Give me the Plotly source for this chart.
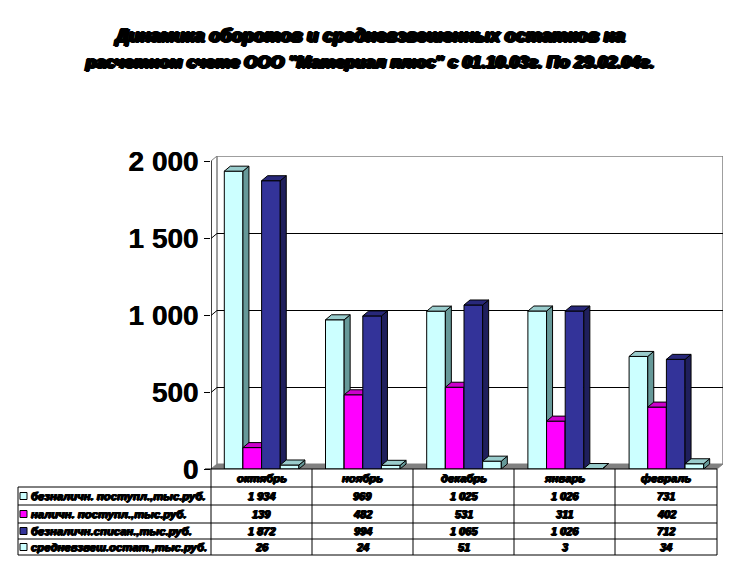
import plotly.graph_objects as go

months = ["октябрь", "ноябрь", "декабрь", "январь", "февраль"]
series_names = ["безналичн. поступл.,тыс.руб.", "наличн. поступл.,тыс.руб.",
                "безналичн.списан.,тыс.руб.", "средневзвеш.остат.,тыс.руб."]
beznal_post = [1934, 969, 1025, 1026, 731]
nal_post = [139, 482, 531, 311, 402]
beznal_spis = [1872, 994, 1065, 1026, 712]
sred_ost = [26, 24, 51, 3, 34]
series_values = [beznal_post, nal_post, beznal_spis, sred_ost]
table_text = [["1 934", "969", "1 025", "1 026", "731"],
              ["139", "482", "531", "311", "402"],
              ["1 872", "994", "1 065", "1 026", "712"],
              ["26", "24", "51", "3", "34"]]
y_ticks = [0, 500, 1000, 1500, 2000]
y_labels = ["0", "500", "1 000", "1 500", "2 000"]
title_lines = ["Динамика оборотов и средневзвешенных остатков на",
               "расчетном счете ООО \"Материал плюс\" с 01.10.03г. По 29.02.04г."]

front = ["#CCFFFF", "#FF00FF", "#333399", "#CCFFFF"]
top_c = ["#99CCCC", "#CC00CC", "#28287A", "#99CCCC"]
side_c = ["#669999", "#990099", "#1F1F5C", "#669999"]

W, H = 739, 576
L, R, T, B = 211, 723, 156, 469          # plot rectangle in page pixels
per_cat = 101.2
per_unit = 308 / 2000
dx = 6 / per_cat
dy = 5 / per_unit
bw = 18.65 / per_cat
idx = list(range(len(months)))
x_lo, x_hi = -0.5, -0.5 + (R - L) / per_cat
y_hi = (B - T) / per_unit
half_px = 0.5 / per_unit

fig = go.Figure()
def line_tr(xs, ys, color, width=1, yaxis="y", fill=None, fillcolor=None, clip=True):
    fig.add_trace(go.Scatter(x=xs, y=ys, mode="lines", yaxis=yaxis, hoverinfo="skip",
                             line=dict(color=color, width=width), fill=fill, fillcolor=fillcolor,
                             cliponaxis=clip, showlegend=False))

# walls and floor
xl, xr = x_lo, x_lo + 5
line_tr([xl, xl + dx, xr + dx, xr, xl], [0, dy, dy, 0, 0], "#808080", fill="toself", fillcolor="#808080")
line_tr([xl + dx, xl + dx, xr + dx, xr + dx], [dy, y_hi, y_hi, dy], "#808080", width=1.5, clip=False)
line_tr([xl, xl + dx], [2000, y_hi], "#808080", clip=False)
for t in y_ticks[1:-1]:
    line_tr([xl, xl + dx, xr + dx], [t - half_px, t + dy - half_px, t + dy - half_px], "#000000")
line_tr([xl, xl], [0, 2000], "#000000", width=1.5, clip=False)

# bars
for s, vals in enumerate(series_values):
    ya = "y%d" % (s + 2)
    off = -2 * bw + s * bw
    fig.add_trace(go.Bar(x=idx, y=vals, width=bw, offset=off, yaxis=ya, name=series_names[s],
                         marker=dict(color=front[s], line=dict(color="#000000", width=1)),
                         showlegend=False, hoverinfo="x+y"))
    sx, sy, tx, ty = [], [], [], []
    for i, v in zip(idx, vals):
        x0 = i + off
        x1 = x0 + bw
        sx += [x1, x1 + dx, x1 + dx, x1, x1, None]
        sy += [0, dy, v + dy, v, 0, None]
        tx += [x0, x0 + dx, x1 + dx, x1, x0, None]
        ty += [v, v + dy, v + dy, v, v, None]
    line_tr(sx, sy, "#000000", yaxis=ya, fill="toself", fillcolor=side_c[s], clip=False)
    line_tr(tx, ty, "#000000", yaxis=ya, fill="toself", fillcolor=top_c[s], clip=False)

# page-pixel helpers for the data table
pw, ph = R - L, B - T
def px(x): return (x - L) / pw
def py(y): return (B - y) / ph
shapes, notes = [], []
def seg(x0, y0, x1, y1):
    shapes.append(dict(type="line", xref="paper", yref="paper", x0=px(x0), y0=py(y0), x1=px(x1), y1=py(y1),
                       line=dict(color="#000000", width=1), layer="above"))
shadow = "0.8px 0 0 #000,-0.8px 0 0 #000,0 0.5px 0 #000,0 -0.5px 0 #000"
def text(x, y, s, size, anchor="center", sh=shadow):
    notes.append(dict(xref="paper", yref="paper", x=px(x), y=py(y), text="<b><i>%s</i></b>" % s, showarrow=False,
                      xanchor=anchor, yanchor="middle", xshift=0,
                      font=dict(family="Liberation Sans", size=size, color="#000000", shadow=sh)))

cols = [18, 211, 312, 413, 514, 615, 717]
rows = [469, 487, 505, 523, 539, 555]
seg(205, rows[0], cols[-1], rows[0])
for y in rows[1:]:
    seg(cols[0], y, cols[-1], y)
seg(cols[0], rows[1], cols[0], rows[-1])
for x in cols[1:]:
    seg(x, rows[0], x, rows[-1])
for c, m in enumerate(months):
    text((cols[c + 1] + cols[c + 2]) / 2, (rows[0] + rows[1]) / 2, m, 11.3)
for r, name in enumerate(series_names):
    cy = (rows[r + 1] + rows[r + 2]) / 2
    shapes.append(dict(type="rect", xref="paper", yref="paper", x0=px(20), x1=px(27), y0=py(cy - 3.5), y1=py(cy + 3.5),
                       fillcolor=front[r], line=dict(color="#000000", width=1), layer="above"))
    text(28.5, cy, name, 11.3, anchor="left")
    for c, v in enumerate(table_text[r]):
        text((cols[c + 1] + cols[c + 2]) / 2, cy, v, 11)

title_shadow = "1px 0 0 #000,-1px 0 0 #000,1.8px 0 0 #000,-1.8px 0 0 #000,0 1px 0 #000,0 -1px 0 #000,1px 1px 0 #000,-1px -1px 0 #000"
text(369, 36, title_lines[0], 18, sh=title_shadow)
text(369, 62, title_lines[1], 17, sh=title_shadow)

axes = {}
for s in range(4):
    axes["yaxis%d" % (s + 2)] = dict(overlaying="y", range=[0, y_hi], visible=False, fixedrange=True)

fig.update_layout(
    width=W, height=H, margin=dict(l=L, r=W - R, t=T, b=H - B, autoexpand=False),
    paper_bgcolor="#FFFFFF", plot_bgcolor="#FFFFFF", barmode="overlay", showlegend=False,
    font=dict(family="Liberation Sans"),
    xaxis=dict(range=[x_lo, x_hi], visible=False, fixedrange=True),
    yaxis=dict(range=[0, y_hi], tickvals=y_ticks, ticktext=["<b>%s</b>" % t for t in y_labels],
               tickfont=dict(family="Liberation Sans", size=28, color="#000000", shadow="0.5px 0 0 #000"),
               ticks="outside", ticklen=6, tickcolor="#000000", tickwidth=1,
               showgrid=False, zeroline=False, showline=False, fixedrange=True),
    shapes=shapes, annotations=notes, **axes)

fig.write_html("out.html", config=dict(displayModeBar=False),
               post_script="document.body.style.margin='0';document.body.style.overflow='hidden';")
